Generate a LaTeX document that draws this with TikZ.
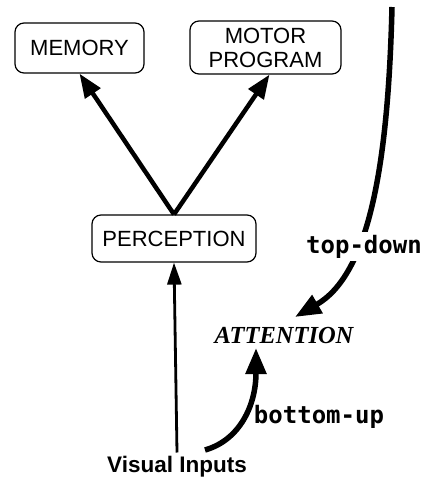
\documentclass[tikz,border=0pt]{standalone}
\usepackage{fontspec}
\usetikzlibrary{arrows.meta}
\newfontfamily\boxfont{Liberation Sans}
\newfontfamily\labfont{DejaVu Sans Mono}
\newfontfamily\attfont{Liberation Serif}
\tikzset{
  box/.style={draw, line width=1.2pt, rounded corners=9pt, inner sep=0pt,
    font=\boxfont\fontsize{22}{24}\selectfont, align=center},
  thick arrow/.style={line width=4.5pt, -{Triangle[length=24pt,width=18pt]}},
  thin arrow/.style={line width=2.8pt, -{Triangle[length=22pt,width=14pt]}},
  curve arrow/.style={line width=5.5pt, -{Triangle[length=26pt,width=20pt]}},
  lab/.style={font=\labfont\bfseries\fontsize{24}{26}\selectfont, anchor=base, inner sep=3pt},
}
\begin{document}
\begin{tikzpicture}[x=1pt,y=-1pt]
\useasboundingbox (0,0) rectangle (431,477);
% boxes
\node[box, minimum width=129pt, minimum height=50pt] (mem) at (79.5,48) {MEMORY};
\node[box, minimum width=151pt, minimum height=53pt] (mot) at (265.5,47.5) {MOTOR\\PROGRAM};
\node[box, minimum width=164pt, minimum height=47pt] (perc) at (174,238.5) {PERCEPTION};
% texts
\node[font=\boxfont\bfseries\fontsize{22.5}{24}\selectfont, anchor=base, inner sep=3pt] (vis) at (177,472) {Visual Inputs};
\node[font=\attfont\bfseries\itshape\fontsize{24.5}{26}\selectfont, anchor=base, inner sep=2pt] (att) at (284,343) {ATTENTION};
% straight arrows
\draw[thick arrow] (perc.north) -- (mem.south);
\draw[thick arrow] (perc.north) -- ([xshift=4pt]mot.south);
\draw[thin arrow] (vis.north) -- (perc.south);
% curved arrows
\coordinate (tdtail) at (392,7);
\coordinate (tdtip) at (295,317);
\coordinate (butail) at (205,450);
\coordinate (butip) at (256,348);
\draw[curve arrow] (tdtail) .. controls (388,170) and (368,275) .. (tdtip);
\draw[curve arrow] (butail) .. controls (240,440) and (256,405) .. (butip);
% labels
\node[lab, fill=white] (td) at (364,253) {top-down};
\node[lab] (bu) at (319,423) {bottom-up};
\end{tikzpicture}
\end{document}
